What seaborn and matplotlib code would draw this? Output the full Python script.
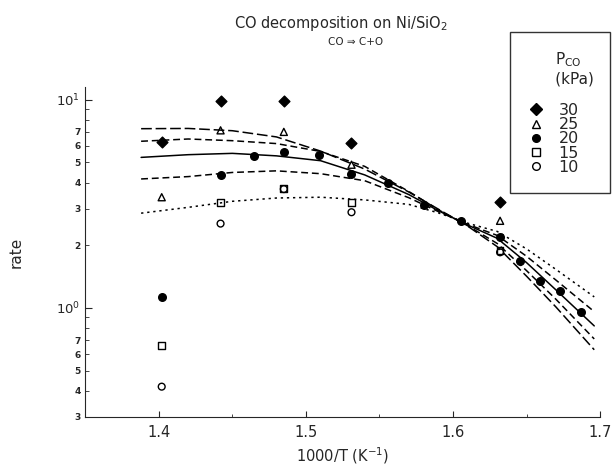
import pandas as pd
import matplotlib
matplotlib.use("Agg")
import matplotlib.pyplot as plt
import seaborn as sns
from matplotlib.lines import Line2D

x_p30 = [1.402, 1.442, 1.485, 1.531, 1.632]
rate_p30 = [6.27, 9.9, 9.9, 6.2, 3.24]
x_p25 = [1.402, 1.442, 1.485, 1.531, 1.632]
rate_p25 = [3.40, 7.12, 7.00, 4.87, 2.62]
x_p20 = [1.402, 1.442, 1.4645, 1.485, 1.5087, 1.531, 1.5557, 1.580, 1.6056,
         1.632, 1.6455, 1.659, 1.6727, 1.6867]
rate_p20 = [1.13, 4.36, 5.34, 5.58, 5.40, 4.40, 3.98, 3.13, 2.60,
            2.18, 1.68, 1.35, 1.20, 0.96]
x_p15 = [1.402, 1.442, 1.485, 1.531, 1.632]
rate_p15 = [0.659, 3.21, 3.76, 3.21, 1.88]
x_p10 = [1.402, 1.442, 1.485, 1.531, 1.632]
rate_p10 = [0.419, 2.54, 3.72, 2.88, 1.85]

# model curves
x_fit = [1.388, 1.42, 1.45, 1.48, 1.51, 1.54, 1.57, 1.59, 1.61, 1.63, 1.65, 1.67, 1.696]
fit_p30 = [7.25, 7.27, 7.09, 6.62, 5.66, 4.64, 3.60, 2.98, 2.47, 1.97, 1.42, 1.01, 0.63]
fit_p25 = [6.31, 6.47, 6.35, 6.15, 5.64, 4.78, 3.62, 2.96, 2.48, 2.04, 1.51, 1.10, 0.71]
fit_p20 = [5.28, 5.44, 5.52, 5.37, 5.09, 4.35, 3.50, 2.93, 2.50, 2.16, 1.65, 1.22, 0.82]
fit_p15 = [4.16, 4.27, 4.47, 4.55, 4.41, 4.08, 3.38, 2.90, 2.52, 2.23, 1.77, 1.36, 0.96]
fit_p10 = [2.85, 3.04, 3.25, 3.37, 3.40, 3.30, 3.14, 2.86, 2.55, 2.33, 1.92, 1.53, 1.13]

pressures = ["30", "25", "20", "15", "10"]

pts = pd.concat([
    pd.DataFrame({"x": x_p30, "rate": rate_p30, "P": "30"}),
    pd.DataFrame({"x": x_p25, "rate": rate_p25, "P": "25"}),
    pd.DataFrame({"x": x_p20, "rate": rate_p20, "P": "20"}),
    pd.DataFrame({"x": x_p15, "rate": rate_p15, "P": "15"}),
    pd.DataFrame({"x": x_p10, "rate": rate_p10, "P": "10"}),
])
curves = pd.concat([
    pd.DataFrame({"x": x_fit, "rate": fit_p30, "P": "30"}),
    pd.DataFrame({"x": x_fit, "rate": fit_p25, "P": "25"}),
    pd.DataFrame({"x": x_fit, "rate": fit_p20, "P": "20"}),
    pd.DataFrame({"x": x_fit, "rate": fit_p15, "P": "15"}),
    pd.DataFrame({"x": x_fit, "rate": fit_p10, "P": "10"}),
])

sns.set_style("ticks")
plt.rcParams["font.family"] = ["DejaVu Sans"]

dash_map = {"30": (7, 2.5), "25": (4.5, 2.5), "20": "", "15": (4.5, 2.5), "10": (1.5, 2.5)}
marker_style = {
    "30": dict(marker="D", s=30, facecolor="black"),
    "25": dict(marker="^", s=26, facecolor="none"),
    "20": dict(marker="o", s=30, facecolor="black"),
    "15": dict(marker="s", s=24, facecolor="none"),
    "10": dict(marker="o", s=24, facecolor="none"),
}

fig = plt.figure(figsize=(6.13, 4.70), dpi=100)
ax = fig.add_axes([0.139, 0.113, 0.840, 0.702])

sns.lineplot(data=curves, x="x", y="rate", style="P", dashes=dash_map,
             color="black", linewidth=1.1, legend=False, ax=ax, zorder=2)
for p in pressures:
    d = pts[pts["P"] == p]
    st = marker_style[p]
    sns.scatterplot(x=d["x"], y=d["rate"], marker=st["marker"], s=st["s"],
                    facecolor=st["facecolor"], edgecolor="black", linewidth=1.0,
                    ax=ax, zorder=3)

ax.set_yscale("log")
ax.set_xlim(1.35, 1.70)
ax.set_ylim(0.3, 11.5)
ax.set_xticks([1.4, 1.5, 1.6, 1.7])
ax.set_xticklabels(["1.4", "1.5", "1.6", "1.7"], fontsize=10.5)
ax.set_xticks([1.45, 1.55, 1.65], minor=True)
ax.set_yticks([1, 10])
ax.set_yticklabels(["10$^0$", "10$^1$"], fontsize=9.5)
minor_y = [0.3, 0.4, 0.5, 0.6, 0.7, 0.8, 0.9, 2, 3, 4, 5, 6, 7, 8, 9]
minor_lab = ["3", "4", "5", "6", "7", "", "", "2", "3", "4", "5", "6", "7", "", ""]
ax.set_yticks(minor_y, labels=minor_lab, minor=True)
ax.tick_params(axis="y", which="minor", labelsize=6.5, direction="in", length=3)
ax.tick_params(axis="y", which="major", direction="in", length=5)
ax.tick_params(axis="x", which="both", direction="in", length=4, pad=6)
ax.tick_params(axis="x", which="minor", length=2)
for lab in ax.get_yticklabels(minor=True):
    lab.set_fontweight("bold")
sns.despine(ax=ax)

ax.set_xlabel("1000/T (K$^{-1}$)", fontsize=10.5, labelpad=4)
ax.set_ylabel("rate", fontsize=11)
ax.yaxis.set_label_coords(-0.12, 0.5)

fig.text(0.556, 0.949, "CO decomposition on Ni/SiO$_2$", ha="center", va="center", fontsize=10.5)
fig.text(0.58, 0.91, "CO \u21d2 C+O", ha="center", va="center", fontsize=7.5)

handles = []
for p in pressures:
    st = marker_style[p]
    handles.append(Line2D([], [], linestyle="none", marker=st["marker"],
                          markersize=5.5 if st["marker"] != "D" else 6,
                          markerfacecolor=st["facecolor"], markeredgecolor="black"))
leg = fig.legend(handles, pressures,
                 title="      P$_{\\mathregular{CO}}$\n      (kPa)\n",
                 loc="upper left", mode="expand", borderaxespad=0,
                 bbox_to_anchor=(510 / 613, 1 - 198 / 470, 100 / 613, 166 / 470),
                 frameon=True, fancybox=False, edgecolor="black",
                 fontsize=11.5, title_fontsize=11, handlelength=1.0,
                 handletextpad=0.9, labelspacing=-0.05, borderpad=1.15)
leg.get_frame().set_linewidth(1.0)

fig.savefig("out.png", dpi=100)
